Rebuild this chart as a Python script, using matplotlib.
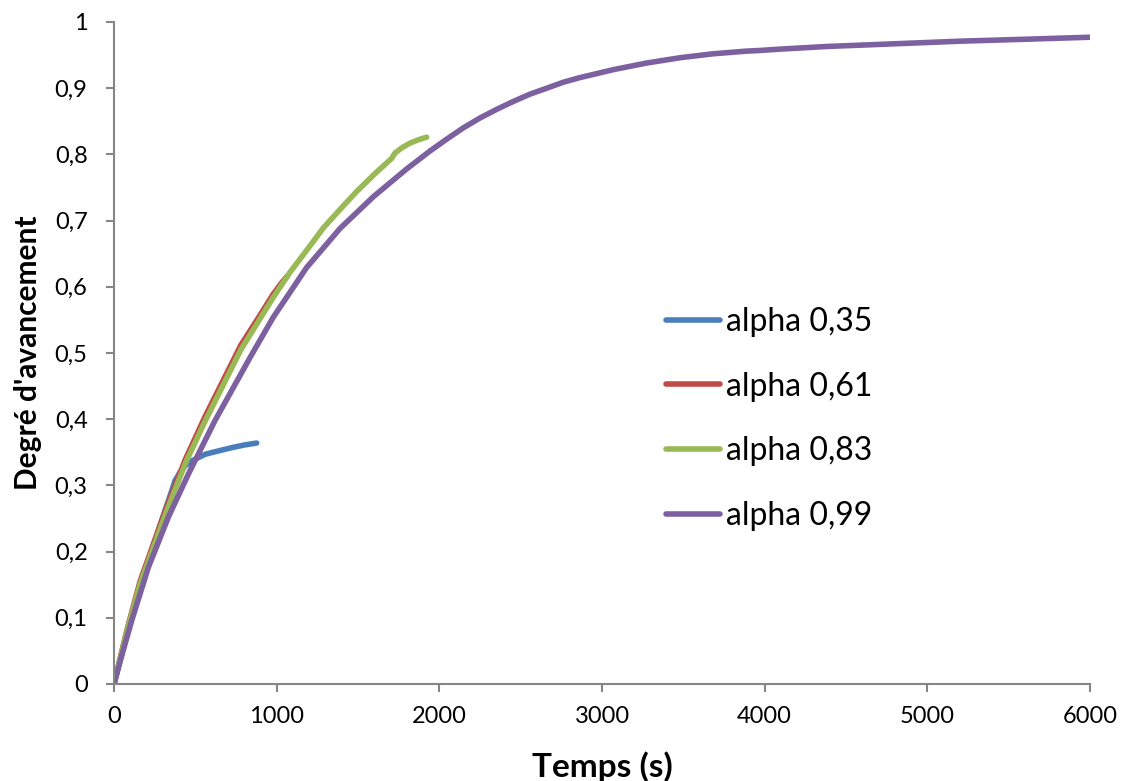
import matplotlib
matplotlib.use("Agg")
import matplotlib.pyplot as plt

plt.rcParams['font.family'] = ['Lato', 'DejaVu Sans']

# Data
t_035 = [0, 60, 129, 211, 293, 355, 375, 406, 440, 478, 560, 640, 724, 800, 877]
y_035 = [0, 0.058, 0.120, 0.186, 0.247, 0.292, 0.307, 0.320, 0.330, 0.337, 0.347, 0.352,
         0.357, 0.361, 0.364]

t_061 = [0, 80, 160, 320, 440, 560, 780, 900, 979, 1030, 1065]
y_061 = [0, 0.082, 0.155, 0.265, 0.340, 0.404, 0.512, 0.558, 0.589, 0.606, 0.616]

t_083 = [0, 80, 160, 320, 440, 560, 780, 979, 1082, 1184, 1287, 1390, 1492, 1600, 1707,
         1727, 1770, 1819, 1870, 1922]
y_083 = [0, 0.080, 0.151, 0.259, 0.334, 0.397, 0.505, 0.584, 0.622, 0.655, 0.689, 0.717,
         0.744, 0.770, 0.794, 0.802, 0.810, 0.817, 0.822, 0.826]

t_099 = [0, 50, 109, 211, 334, 457, 621, 836, 979, 1184, 1389, 1594, 1799, 1942, 2045,
         2147, 2250, 2352, 2455, 2557, 2660, 2762, 2864, 2967, 3069, 3171, 3274, 3376,
         3479, 3581, 3684, 3786, 3889, 3971, 4093, 4380, 4790, 5200, 5610, 6000]
y_099 = [0, 0.045, 0.096, 0.176, 0.252, 0.317, 0.398, 0.493, 0.554, 0.629, 0.688, 0.736,
         0.778, 0.805, 0.823, 0.840, 0.855, 0.868, 0.880, 0.891, 0.900, 0.909, 0.916,
         0.922, 0.928, 0.933, 0.938, 0.942, 0.946, 0.949, 0.952, 0.954, 0.956, 0.957,
         0.959, 0.963, 0.967, 0.971, 0.974, 0.977]

labels = ['alpha 0,35', 'alpha 0,61', 'alpha 0,83', 'alpha 0,99']
colors = ['#4A7EBB', '#BE4B48', '#98B954', '#7D60A0']

x_ticks = [0, 1000, 2000, 3000, 4000, 5000, 6000]
y_ticks = [0, 0.1, 0.2, 0.3, 0.4, 0.5, 0.6, 0.7, 0.8, 0.9, 1.0]
y_tick_labels = ['0', '0,1', '0,2', '0,3', '0,4', '0,5', '0,6', '0,7', '0,8', '0,9', '1']

fig = plt.figure(figsize=(11.24, 7.81), dpi=100)
ax = fig.add_axes([114/1124, 1 - 684/781, (1090-114)/1124, (684-22)/781])

series = [(t_035, y_035), (t_061, y_061), (t_083, y_083), (t_099, y_099)]
for (tx, ty), lab, col in zip(series, labels, colors):
    ax.plot(tx, ty, color=col, lw=4.0, label=lab, solid_capstyle='round',
            solid_joinstyle='round')

ax.set_xlim(0, 6000)
ax.set_ylim(0, 1)
ax.set_xticks(x_ticks)
ax.set_xticklabels([str(v) for v in x_ticks])
ax.set_yticks(y_ticks)
ax.set_yticklabels(y_tick_labels)

for s in ['top', 'right']:
    ax.spines[s].set_visible(False)
for s in ['left', 'bottom']:
    ax.spines[s].set_color('#868686')
    ax.spines[s].set_linewidth(1.5)
ax.tick_params(axis='both', colors='#868686', length=6, width=1.5, direction='out',
               labelsize=17, labelcolor='black')
ax.tick_params(axis='x', pad=10)
ax.tick_params(axis='y', pad=13)

ax.set_xlabel('Temps (s)', fontsize=24, fontweight='bold', labelpad=17)
ax.set_ylabel("Degré d'avancement", fontsize=21.5, fontweight='bold', labelpad=9)

leg = ax.legend(loc='upper left', bbox_to_anchor=((653-114)/976, (684-294)/662),
                frameon=False, fontsize=23, handlelength=1.69, handletextpad=0.18,
                labelspacing=1.09, borderaxespad=0)

fig.savefig('out.png', dpi=100)
